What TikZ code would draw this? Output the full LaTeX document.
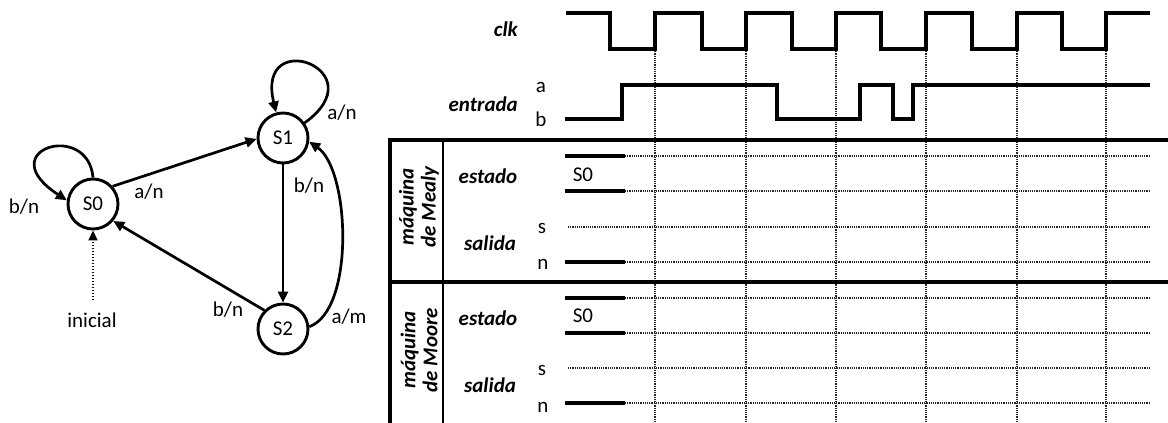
\documentclass[tikz,border=0pt]{standalone}
\usepackage{fontspec}
\setmainfont{Carlito}
\usetikzlibrary{arrows.meta}
\begin{document}
\begin{tikzpicture}[x=1pt,y=-1pt,
  state/.style={circle, draw, line width=2.9pt, minimum size=50pt, inner sep=0pt, font=\fontsize{21}{22}\selectfont},
  tr/.style={line width=2.7pt, -{Triangle[length=11pt,width=10pt]}},
  lbl/.style={font=\fontsize{21}{22}\selectfont, inner sep=0pt},
  blbl/.style={font=\fontsize{21}{22}\selectfont\bfseries\itshape, inner sep=0pt},
  wave/.style={line width=3.1pt, line join=miter},
  solidlvl/.style={line width=3.2pt},
  gridln/.style={line width=1.2pt, dash pattern=on 1.1pt off 1.1pt, black!85},
  rulethick/.style={line width=4.2pt},
  rulethin/.style={line width=2.2pt}]
\useasboundingbox (0,0) rectangle (1168,423);

% ---------------- state diagram ----------------
\node[state] (S0) at (93,204) {S0};
\node[state] (S1) at (283,138) {S1};
\node[state] (S2) at (283,329) {S2};
\coordinate (init) at (93,300);

\draw[tr] (S0.90) .. controls (88,120) and (-10,150) .. (S0.172);
\draw[tr] (S1.35) .. controls (378,70) and (255,25) .. (S1.105);
\draw[tr] (S0.42) -- (S1.182);
\draw[tr] (S1.south) -- (S2.north);
\draw[tr] (S2.135) -- (S0.-40);
\draw[tr] (S2.5) .. controls (355,310) and (350,170) .. (S1.-8);
\draw[line width=1.7pt, dash pattern=on 1.5pt off 1.5pt, -{Triangle[length=10pt,width=9pt]}] (init) -- (S0.south);

\node[lbl] (l1) at (24,207) {b/n};
\node[lbl] (l2) at (149,192) {a/n};
\node[lbl] (l3) at (342,113) {a/n};
\node[lbl] (l4) at (309,186) {b/n};
\node[lbl] (l5) at (228,310) {b/n};
\node[lbl] (l6) at (349,317) {a/m};
\node[lbl] (l7) at (92,320) {inicial};

% ---------------- timing grid ----------------
\foreach \x in {655,746,836,926,1017,1106}
  \draw[gridln] (\x,49) -- (\x,423);
\foreach \y in {156,191,262,298,333,403}
  \draw[gridln] (625,\y) -- (1150,\y);
\foreach \y in {227,368}
  \draw[gridln] (568,\y) -- (1150,\y);
\foreach \y in {156,191,262,298,333,403}
  \draw[solidlvl] (565,\y) -- (625,\y);

% clock
\draw[wave] (566,13) -- (610,13) -- (610,49) -- (655,49) -- (655,13)
  -- (702,13) -- (702,49) -- (746,49) -- (746,13)
  -- (792,13) -- (792,49) -- (836,49) -- (836,13)
  -- (881,13) -- (881,49) -- (926,49) -- (926,13)
  -- (972,13) -- (972,49) -- (1017,49) -- (1017,13)
  -- (1062,13) -- (1062,49) -- (1106,49) -- (1106,13) -- (1150,13);
% entrada
\draw[wave] (565,119) -- (622,119) -- (622,85) -- (777,85) -- (777,119)
  -- (860,119) -- (860,85) -- (893,85) -- (893,119) -- (913,119)
  -- (913,85) -- (1150,85);

% table rules
\draw[rulethick] (388,140) -- (1168,140);
\draw[rulethick] (388,282) -- (1168,282);
\draw[rulethick] (390,138) -- (390,423);
\draw[rulethin] (443,140) -- (443,423);

% labels
\node[blbl, anchor=east] (clk) at (518,29) {clk};
\node[blbl, anchor=east] (entr) at (518,104) {entrada};
\node[lbl] (ea) at (541,87) {a};
\node[lbl] (eb) at (541,119) {b};

\node[blbl, rotate=90, align=center] (mealy) at (419,207) {máquina\\de Mealy};
\node[blbl] (est1) at (488,176) {estado};
\node[lbl] (s01) at (583,175) {S0};
\node[blbl] (sal1) at (490,243) {salida};
\node[lbl] (ss1) at (542,228) {s};
\node[lbl] (sn1) at (543,264) {n};

\node[blbl, rotate=90, align=center] (moore) at (419,350) {máquina\\de Moore};
\node[blbl] (est2) at (488,318) {estado};
\node[lbl] (s02) at (583,316) {S0};
\node[blbl] (sal2) at (490,385) {salida};
\node[lbl] (ss2) at (542,370) {s};
\node[lbl] (sn2) at (543,407) {n};
\end{tikzpicture}
\end{document}
